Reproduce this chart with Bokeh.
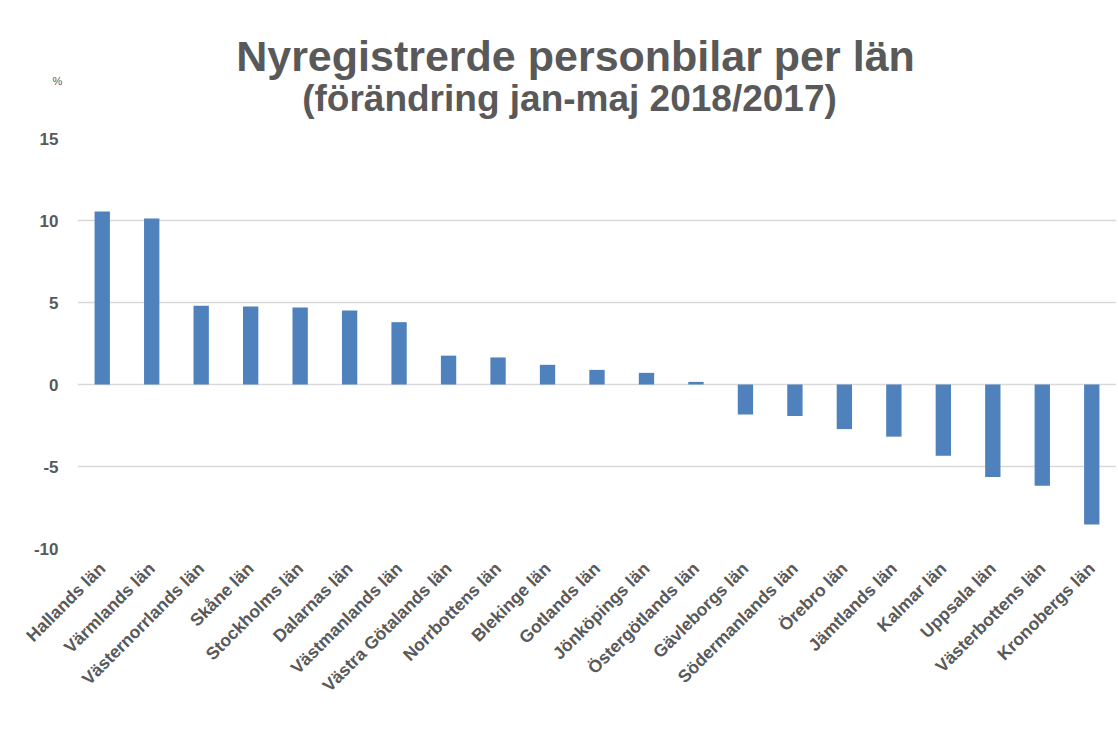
from bokeh.plotting import figure
from bokeh.models import ColumnDataSource, Label, Range1d, FactorRange, FixedTicker
from bokeh.embed import file_html
from bokeh.resources import INLINE
import math

counties = ["Hallands län", "Värmlands län", "Västernorrlands län", "Skåne län",
            "Stockholms län", "Dalarnas län", "Västmanlands län", "Västra Götalands län",
            "Norrbottens län", "Blekinge län", "Gotlands län", "Jönköpings län",
            "Östergötlands län", "Gävleborgs län", "Södermanlands län", "Örebro län",
            "Jämtlands län", "Kalmar län", "Uppsala län", "Västerbottens län",
            "Kronobergs län"]
change = [10.55, 10.12, 4.80, 4.76, 4.70, 4.51, 3.80, 1.76,
          1.65, 1.20, 0.89, 0.71, 0.16, -1.83, -1.92, -2.72,
          -3.18, -4.34, -5.64, -6.17, -8.54]
y_ticks = [-10, -5, 0, 5, 10, 15]

title_text = "Nyregistrerde personbilar per län"
subtitle_text = "(förändring jan-maj 2018/2017)"
unit_text = "%"

FONT = "Liberation Sans"
GRAY = "#595959"

src = ColumnDataSource(dict(x=counties, y=change))

p = figure(width=1116, height=730, output_backend="svg", toolbar_location=None,
           x_range=FactorRange(*counties), y_range=Range1d(-10, 15),
           min_border_left=77, min_border_right=0, min_border_top=138,
           min_border_bottom=182)
p.outline_line_color = None

p.vbar(x="x", top="y", bottom=0, width=0.31, source=src,
       fill_color="#4F81BD", line_color=None)

p.xgrid.grid_line_color = None
p.ygrid.grid_line_color = "#d9d9d9"
p.ygrid.grid_line_width = 1.3
p.ygrid.ticker = FixedTicker(ticks=y_ticks)

p.yaxis.ticker = FixedTicker(ticks=y_ticks)
p.yaxis.major_label_overrides = {t: str(t) for t in y_ticks}
p.yaxis.axis_line_color = None
p.yaxis.major_tick_line_color = None
p.yaxis.minor_tick_line_color = None
p.yaxis.major_label_standoff = 13
p.yaxis.major_label_text_font = FONT
p.yaxis.major_label_text_font_style = "bold"
p.yaxis.major_label_text_font_size = "17px"
p.yaxis.major_label_text_color = GRAY

p.xaxis.axis_line_color = None
p.xaxis.major_tick_line_color = None
p.xaxis.major_label_orientation = math.pi / 4
p.xaxis.major_label_standoff = 11
p.xaxis.major_label_text_font = FONT
p.xaxis.major_label_text_font_style = "bold"
p.xaxis.major_label_text_font_size = "17.5px"
p.xaxis.major_label_text_color = GRAY

p.add_layout(Label(x=575, y=55, x_units="canvas", y_units="canvas", text=title_text,
                   text_align="center", text_baseline="alphabetic",
                   text_font=FONT, text_font_style="bold", text_font_size="43px",
                   text_color=GRAY), "above")
p.add_layout(Label(x=569, y=98, x_units="canvas", y_units="canvas", text=subtitle_text,
                   text_align="center", text_baseline="alphabetic",
                   text_font=FONT, text_font_style="bold", text_font_size="37px",
                   text_color=GRAY), "above")
p.add_layout(Label(x=57, y=80, x_units="canvas", y_units="canvas", text=unit_text,
                   text_align="center", text_baseline="alphabetic",
                   text_font=FONT, text_font_size="11px", text_color=GRAY), "above")

open("out.html", "w").write(file_html(p, INLINE))
